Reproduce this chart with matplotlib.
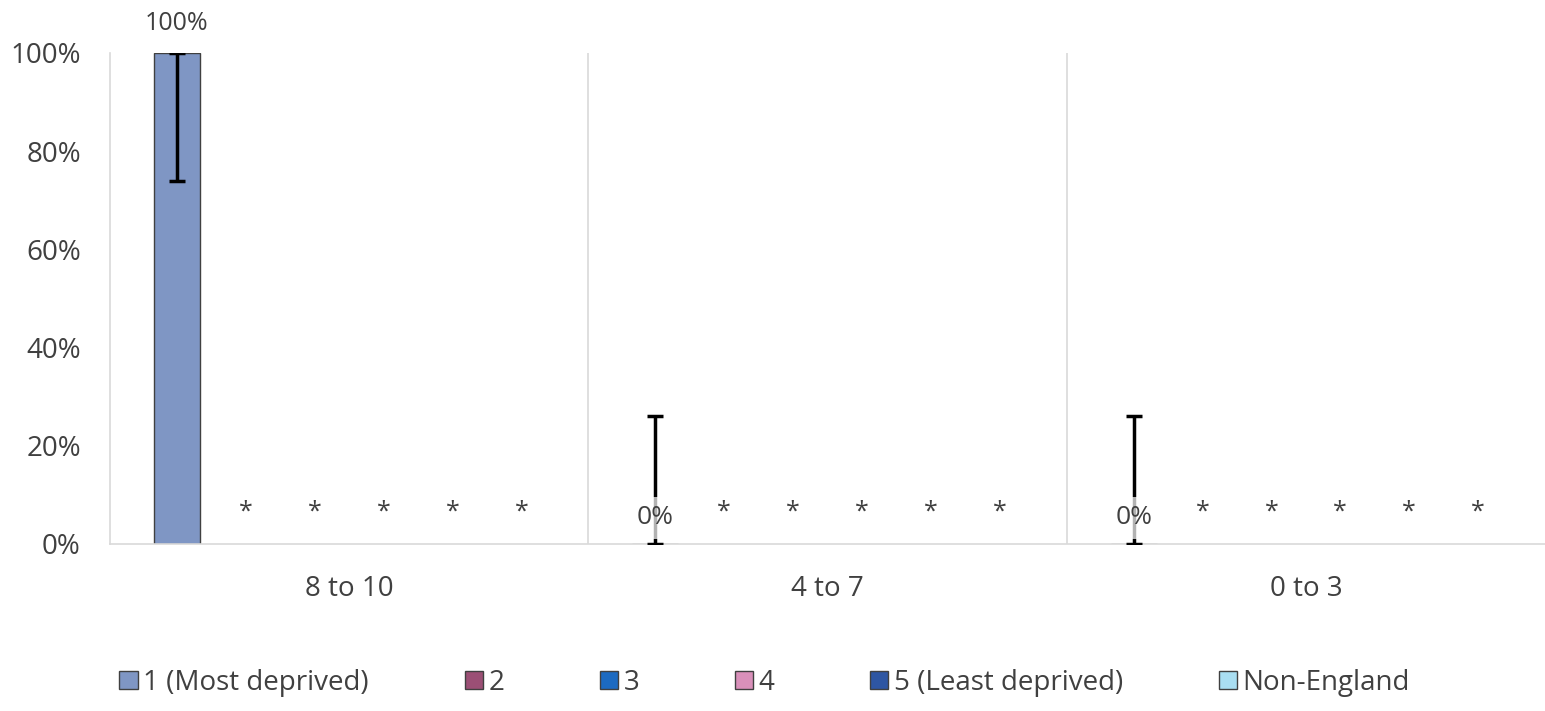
import matplotlib
matplotlib.use('Agg')
import matplotlib.pyplot as plt
from matplotlib.patches import Patch
import numpy as np

# ============================================================
# DATA
# ============================================================
CATEGORIES = ["8 to 10", "4 to 7", "0 to 3"]
SERIES = ["1 (Most deprived)", "2", "3", "4", "5 (Least deprived)", "Non-England"]
COLORS = ["#7F96C4", "#9B4F75", "#1C6AC1", "#D990BA", "#2E56A3", "#A9DEF2"]

# Only series 1 has values; the others are suppressed (shown as *)
S1_VALUES = [100, 0, 0]
S1_ERR_LOW = [26, 0, 0]
S1_ERR_HIGH = [0, 26, 26]
SUPPRESSED_Y = 6.5   # height at which "*" markers are shown

# ============================================================
# STYLE
# ============================================================
plt.rcParams.update({
    'font.family': ['Open Sans', 'DejaVu Sans'],
    'font.size': 20,
    'text.color': '#404040',
    'figure.facecolor': 'white',
})
TEXT = '#404040'
GRID = '#D9D9D9'

fig = plt.figure(figsize=(15.45, 7.11), dpi=100)
ax = fig.add_axes([0.0712, 0.2349, 0.9288, 0.6906])

n_series = len(SERIES)
slot = 0.144
bar_w = 0.096
x = np.arange(len(CATEGORIES))
offsets = (np.arange(n_series) - (n_series - 1) / 2) * slot

# series 1 bars
xs1 = x + offsets[0]
ax.bar(xs1, S1_VALUES, width=bar_w, color=COLORS[0], edgecolor='#404040',
       linewidth=1.0, zorder=2)
ax.errorbar(xs1, S1_VALUES, yerr=[S1_ERR_LOW, S1_ERR_HIGH], fmt='none',
            ecolor='black', elinewidth=2.5, capsize=6, capthick=2.5, zorder=3)

# data labels for series 1
for xi, v in zip(xs1, S1_VALUES):
    if v > 0:
        ax.text(xi, v + 3.5, f"{v}%", ha='center', va='bottom', fontsize=18,
                color=TEXT, clip_on=False)
    else:
        ax.text(xi, 5.3, f"{v}%", ha='center', va='center', fontsize=19,
                color=TEXT, zorder=4,
                bbox=dict(facecolor='white', edgecolor='none', alpha=0.7,
                          pad=6))

# suppressed series
for si in range(1, n_series):
    for xi in x + offsets[si]:
        ax.text(xi, SUPPRESSED_Y, "*", ha='center', va='center', fontsize=18,
                color=TEXT)

# axes styling
ax.set_xlim(-0.5, len(CATEGORIES) - 0.5)
ax.set_ylim(0, 100)
ax.set_yticks(np.arange(0, 101, 20))
ax.set_yticklabels([f"{t}%" for t in range(0, 101, 20)], color=TEXT, fontsize=20)
ax.set_xticks(x)
ax.set_xticklabels(CATEGORIES, color=TEXT, fontsize=20)
ax.tick_params(axis='both', length=0)
ax.tick_params(axis='y', pad=21)
ax.tick_params(axis='x', pad=22)
for xb in x[:-1] + 0.5:
    ax.axvline(xb, color=GRID, linewidth=1.2, zorder=1)
for s in ['top', 'right']:
    ax.spines[s].set_visible(False)
ax.spines['left'].set_color(GRID)
ax.spines['bottom'].set_color(GRID)
ax.spines['left'].set_linewidth(1.2)
ax.spines['bottom'].set_linewidth(1.2)

handles = [Patch(facecolor=c, edgecolor='#404040', linewidth=1.0) for c in COLORS]
fig.legend(handles, SERIES, loc='center', bbox_to_anchor=(0.495, 0.04),
           ncol=n_series, frameon=False, fontsize=20, handlelength=0.65,
           handleheight=0.65, handletextpad=0.2, columnspacing=3.45)

fig.savefig("out.png", dpi=100, facecolor='white')
plt.close(fig)
